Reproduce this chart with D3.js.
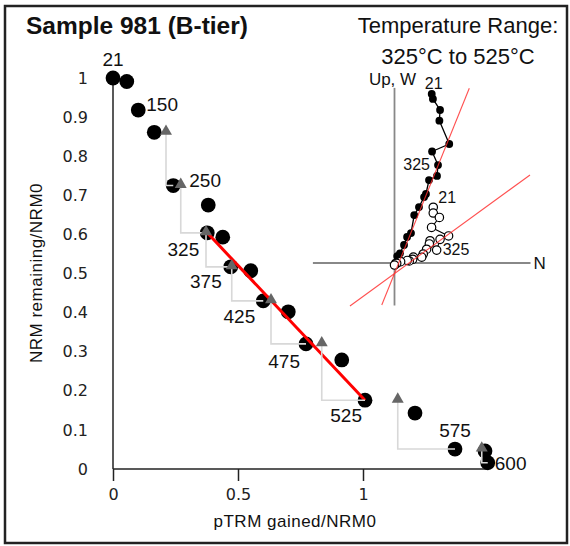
<!DOCTYPE html>
<html>
<head>
<meta charset="utf-8">
<script src="https://cdn.jsdelivr.net/npm/d3@7"></script>
<style>
  body { margin: 0; background: #fff; }
  svg text { font-family: "Liberation Sans", Arial, sans-serif; fill: #111; }
  .axis text { font-family: "DejaVu Sans", sans-serif; font-size: 16px; fill: #222; }
</style>
</head>
<body>
<div id="chart"></div>
<script>
// Arai plot: one point per temperature step
var stepPtrm = [0, 0.055, 0.101, 0.165, 0.241, 0.381, 0.377, 0.439, 0.471, 0.551, 0.601, 0.701, 0.772, 0.915, 1.008, 1.208, 1.368, 1.488, 1.499];
var stepNrm  = [1.0, 0.991, 0.918, 0.861, 0.725, 0.675, 0.604, 0.593, 0.517, 0.507, 0.430, 0.402, 0.320, 0.279, 0.176, 0.143, 0.051, 0.046, 0.016];
var stepLabels = ["21", "", "150", "", "250", "", "325", "", "375", "", "425", "", "475", "", "525", "", "575", "", "600"];

// pTRM checks (triangles)
var checkPtrm = [0.212, 0.271, 0.372, 0.475, 0.632, 0.835, 1.139, 1.475];
var checkFrom = [3, 4, 6, 8, 10, 12, 14, 16];   // step whose NRM the check shares
var checkTo   = [4, 6, 8, 10, 12, 14, 16, 18];  // later step it is tied to

var fitFrom = 6, fitTo = 14;   // 325 to 525

var xTicks = [0, 0.5, 1];
var yTicks = [0, 0.1, 0.2, 0.3, 0.4, 0.5, 0.6, 0.7, 0.8, 0.9, 1];

// Zijderveld inset (normalised to NRM0)
var horizN = [0.219, 0.226, 0.268, 0.264, 0.322, 0.221, 0.256, 0.250, 0.203, 0.185, 0.174, 0.144, 0.116, 0.097, 0.074, 0.056, 0.032, 0.016, 0.003];
var horizE = [0.994, 0.965, 0.900, 0.837, 0.700, 0.656, 0.576, 0.512, 0.488, 0.406, 0.388, 0.329, 0.282, 0.176, 0.153, 0.106, 0.057, 0.041, 0.000];
var vertN  = [0.228, 0.228, 0.264, 0.218, 0.318, 0.268, 0.248, 0.209, 0.205, 0.189, 0.169, 0.160, 0.111, 0.107, 0.087, 0.075, 0.036, 0.013, 0.000];
var vertUp = [0.328, 0.294, 0.268, 0.209, 0.159, 0.139, 0.076, 0.131, 0.112, 0.081, 0.053, 0.034, 0.035, 0.022, 0.012, 0.015, 0.008, -0.002, -0.012];
var zijAxisN = [-0.48, 0.80];
var zijAxisV = [-0.25, 1.03];
var fitHoriz = [[-0.075, -0.247], [0.440, 1.028]];
var fitVert  = [[-0.262, -0.253], [0.797, 0.518]];

var W = 570, H = 546;
var svg = d3.select("#chart").append("svg").attr("width", W).attr("height", H);

// frame
svg.append("rect").attr("x", 5).attr("y", 6).attr("width", 562).attr("height", 537)
   .attr("fill", "none").attr("stroke", "#222").attr("stroke-width", 2.5);

svg.append("text").attr("x", 26).attr("y", 34)
   .attr("font-size", "24.5px").attr("font-weight", "bold").text("Sample 981 (B-tier)");
svg.append("text").attr("x", 458).attr("y", 33).attr("text-anchor", "middle")
   .attr("font-size", "22px").text("Temperature Range:");
svg.append("text").attr("x", 458).attr("y", 64).attr("text-anchor", "middle")
   .attr("font-size", "22px").text("325\u00B0C to 525\u00B0C");

// ---- Arai plot ----
var margin = {left: 113, top: 78};
var width = 250, height = 391;
var g = svg.append("g").attr("transform", "translate(" + margin.left + "," + margin.top + ")");

var x = d3.scaleLinear().domain([0, 1]).range([0, width]);
var y = d3.scaleLinear().domain([0, 1]).range([height, 0]);

var steps = stepPtrm.map(function(d, i) { return {x: d, y: stepNrm[i], label: stepLabels[i]}; });
var checks = checkPtrm.map(function(d, i) {
  return {x: d, y: stepNrm[checkFrom[i]], to: steps[checkTo[i]]};
});

var xAxis = g.append("g").attr("class", "axis")
  .attr("transform", "translate(0," + height + ")")
  .call(d3.axisBottom(x).tickValues(xTicks).tickSize(12).tickPadding(8).tickFormat(d3.format("")));
xAxis.select(".domain").remove();
xAxis.selectAll(".tick line").attr("stroke", "#222").attr("stroke-width", 1.5);
xAxis.append("line").attr("x1", 0).attr("x2", x(d3.max(stepPtrm)))
  .attr("stroke", "#222").attr("stroke-width", 1.5);

var yAxis = g.append("g").attr("class", "axis")
  .call(d3.axisLeft(y).tickValues(yTicks).tickSize(0).tickPadding(25).tickFormat(d3.format("")));
yAxis.select(".domain").remove();
yAxis.append("line").attr("y1", y(0)).attr("y2", y(1))
  .attr("stroke", "#222").attr("stroke-width", 1.5);

g.append("text").attr("class", "axis")
  .attr("x", 182).attr("y", 449).attr("text-anchor", "middle")
  .attr("font-family", "DejaVu Sans").attr("font-size", "17px").attr("letter-spacing", "0.5px")
  .attr("fill", "#222").text("pTRM gained/NRM0");
svg.append("text")
  .attr("transform", "translate(42,273) rotate(-90)").attr("text-anchor", "middle")
  .attr("font-family", "DejaVu Sans").attr("font-size", "17px").attr("letter-spacing", "0.5px")
  .attr("fill", "#222").text("NRM remaining/NRM0");

// step points
g.selectAll(".step").data(steps).enter().append("circle")
  .attr("class", "step")
  .attr("cx", function(d) { return x(d.x); })
  .attr("cy", function(d) { return y(d.y); })
  .attr("r", 7.4).attr("fill", "#000");

// best-fit segment
g.append("line")
  .attr("x1", x(steps[fitFrom].x)).attr("y1", y(steps[fitFrom].y))
  .attr("x2", x(steps[fitTo].x)).attr("y2", y(steps[fitTo].y))
  .attr("stroke", "#ff0000").attr("stroke-width", 3);

// pTRM check lines
g.selectAll(".chk-line").data(checks).enter().append("path")
  .attr("class", "chk-line")
  .attr("d", function(d) {
    return "M" + x(d.x) + "," + y(d.y) + "V" + y(d.to.y) + "H" + x(d.to.x);
  })
  .attr("fill", "none").attr("stroke", "#d8d8d8").attr("stroke-width", 1.6);

// pTRM check triangles
var tri = d3.symbol().type(d3.symbolTriangle).size(62);
g.selectAll(".chk").data(checks).enter().append("path")
  .attr("class", "chk")
  .attr("transform", function(d) { return "translate(" + x(d.x) + "," + (y(d.y) - 1) + ")"; })
  .attr("d", tri).attr("fill", "#666");

// step labels
var labelPlace = {
  "21":  {dx: 0,  dy: -12, anchor: "middle"},
  "150": {dx: 8,  dy: 1,   anchor: "start"},
  "250": {dx: 16, dy: 1,   anchor: "start"},
  "325": {dx: -8, dy: 23,  anchor: "end"},
  "375": {dx: -9, dy: 21,  anchor: "end"},
  "425": {dx: -8, dy: 22,  anchor: "end"},
  "475": {dx: -6, dy: 24,  anchor: "end"},
  "525": {dx: -3, dy: 22,  anchor: "end"},
  "575": {dx: 0,  dy: -12, anchor: "middle"},
  "600": {dx: 7,  dy: 7,   anchor: "start"}
};
g.selectAll(".slabel").data(steps.filter(function(d) { return d.label; })).enter().append("text")
  .attr("class", "slabel")
  .attr("x", function(d) { return x(d.x) + labelPlace[d.label].dx; })
  .attr("y", function(d) { return y(d.y) + labelPlace[d.label].dy; })
  .attr("text-anchor", function(d) { return labelPlace[d.label].anchor; })
  .attr("font-size", "19px").attr("fill", "#222")
  .text(function(d) { return d.label; });

// ---- Zijderveld inset ----
var zx = d3.scaleLinear().domain([0, 1]).range([394.5, 564.5]);
var zy = d3.scaleLinear().domain([0, 1]).range([263, 93]);
var z = svg.append("g");

z.append("line").attr("x1", zx(zijAxisN[0])).attr("x2", zx(zijAxisN[1]))
  .attr("y1", zy(0)).attr("y2", zy(0)).attr("stroke", "#888").attr("stroke-width", 1.8);
z.append("line").attr("x1", zx(0)).attr("x2", zx(0))
  .attr("y1", zy(zijAxisV[0])).attr("y2", zy(zijAxisV[1])).attr("stroke", "#888").attr("stroke-width", 1.8);
z.append("text").attr("x", zx(zijAxisN[1]) + 3).attr("y", zy(0) + 6)
  .attr("font-size", "17px").text("N");
z.append("text").attr("x", zx(0) - 2).attr("y", zy(zijAxisV[1]) - 3).attr("text-anchor", "middle")
  .attr("font-size", "17px").text("Up, W");

var horiz = horizN.map(function(d, i) { return [d, horizE[i]]; });
var vert = vertN.map(function(d, i) { return [d, vertUp[i]]; });
var zline = d3.line().x(function(d) { return zx(d[0]); }).y(function(d) { return zy(d[1]); });

z.append("path").attr("d", zline(horiz)).attr("fill", "none").attr("stroke", "#000").attr("stroke-width", 1.3);
z.append("path").attr("d", zline(vert)).attr("fill", "none").attr("stroke", "#000").attr("stroke-width", 1.1);

z.selectAll(".hz").data(horiz).enter().append("circle")
  .attr("class", "hz")
  .attr("cx", function(d) { return zx(d[0]); }).attr("cy", function(d) { return zy(d[1]); })
  .attr("r", 3.9).attr("fill", "#000");
z.selectAll(".vt").data(vert).enter().append("circle")
  .attr("class", "vt")
  .attr("cx", function(d) { return zx(d[0]); }).attr("cy", function(d) { return zy(d[1]); })
  .attr("r", 4.2).attr("fill", "#fff").attr("stroke", "#000").attr("stroke-width", 1.2);

[fitHoriz, fitVert].forEach(function(f) {
  z.append("path").attr("d", zline(f)).attr("stroke", "#ff3030").attr("stroke-width", 1.1)
    .attr("stroke-opacity", 0.85).attr("fill", "none");
});

z.append("text").attr("x", zx(horiz[0][0]) + 2).attr("y", zy(horiz[0][1]) - 5)
  .attr("text-anchor", "middle").attr("font-size", "16px").text(stepLabels[0]);
z.append("text").attr("x", zx(horiz[6][0]) - 8).attr("y", zy(horiz[6][1]) + 5)
  .attr("text-anchor", "end").attr("font-size", "16px").attr("fill", "#333").text(stepLabels[6]);
z.append("text").attr("x", zx(vert[0][0]) + 5).attr("y", zy(vert[0][1]) - 4)
  .attr("font-size", "16px").attr("fill", "#333").text(stepLabels[0]);
z.append("text").attr("x", zx(vert[6][0]) + 6).attr("y", zy(vert[6][1]) + 5)
  .attr("font-size", "16px").attr("fill", "#333").text(stepLabels[6]);
</script>
</body>
</html>
